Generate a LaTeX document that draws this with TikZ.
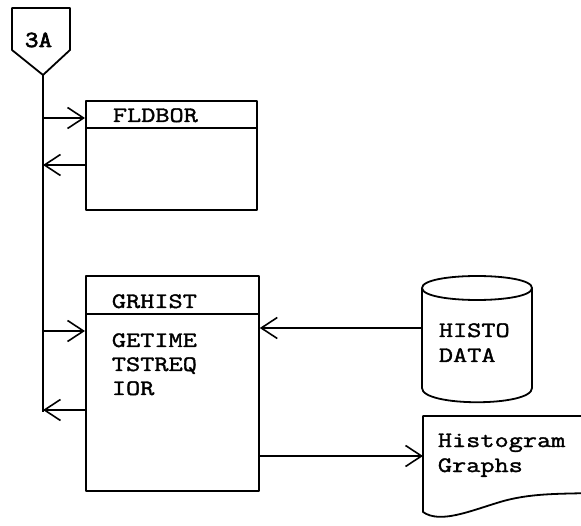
\documentclass[tikz,border=0pt]{standalone}
\usepackage{fontspec}
\setmonofont{Latin Modern Mono}[FakeStretch=1.25, FakeBold=1.6]
\newfontfamily\tagfont{Latin Modern Mono}[FakeStretch=1.15, FakeBold=3]
\usetikzlibrary{arrows.meta}
\begin{document}
\begin{tikzpicture}[x=1pt,y=-1pt,
  line width=1.8pt, line join=round,
  lbl/.style={font=\ttfamily\fontsize{22}{22}\selectfont, anchor=base west, inner sep=0pt},
  box/.style={draw, anchor=north west, inner sep=0pt},
  area/.style={anchor=north west, inner sep=0pt},
  arr/.style={-{Straight Barb[length=16pt,width=21pt,line width=1.6pt]}},
]
\useasboundingbox (0,0) rectangle (581,526);

% off-page connector 3A
\coordinate (ctip) at (43,75);
\draw (ctip) -- (70,50) -- (70,8) -- (12,8) -- (12,50) -- cycle;
\node[font=\tagfont\fontsize{23}{23}\selectfont, anchor=base west, inner sep=0pt] (c3a) at (24,47) {3A};

% flow spine
\coordinate (sbot) at (43,412);
\draw (ctip) -- (sbot);

% FLDBOR module
\node[box, minimum width=171pt, minimum height=109pt] (fld) at (85,100) {};
\coordinate (fldh) at (85,128);
\draw (fldh) -- (fldh -| fld.east);
\node[lbl] (fldname) at (112,122) {FLDBOR};

% GRHIST module
\node[box, minimum width=173pt, minimum height=215pt] (gr) at (85,275) {};
\coordinate (grh) at (85,314);
\draw (grh) -- (grh -| gr.east);
\node[lbl] (grname) at (111,308) {GRHIST};
\node[lbl] (gr1) at (111,347) {GETIME};
\node[lbl] (gr2) at (111,371) {TSTREQ};
\node[lbl] (gr3) at (111,395) {IOR};

% calls along the spine
\coordinate (s1) at (43,118);
\coordinate (s2) at (43,165);
\coordinate (s3) at (43,331);
\coordinate (s4) at (43,410);
\draw[arr] (s1) -- (s1 -| fld.west);
\draw[arr] (s2 -| fld.west) -- (s2);
\draw[arr] (s3) -- (s3 -| gr.west);
\draw[arr] (s4 -| gr.west) -- (s4);

% HISTO DATA store
\node[area, minimum width=110pt, minimum height=125pt] (histo) at (422,277) {};
\draw (422,288) -- (422,388) .. controls (422,407) and (532,407) .. (532,388) -- (532,288);
\draw (422,288) .. controls (422,272) and (532,272) .. (532,288)
                .. controls (532,304) and (422,304) .. (422,288);
\node[lbl] (histo1) at (438,337) {HISTO};
\node[lbl] (histo2) at (438,362) {DATA};

% Histogram Graphs document
\node[area, minimum width=158pt, minimum height=99pt] (doc) at (423,416) {};
\draw (590,416) -- (423,416) -- (423,512)
      .. controls (440,524) and (470,511) .. (500,502)
      .. controls (530,493) and (560,494) .. (590,493);
\node[lbl] (doc1) at (437,447) {Histogram};
\node[lbl] (doc2) at (437,472) {Graphs};

% data flows
\coordinate (hin) at (422,328);
\draw[arr] (hin) -- (hin -| gr.east);
\coordinate (gout) at (258,456);
\draw[arr] (gout) -- (gout -| doc.west);
\end{tikzpicture}
\end{document}
